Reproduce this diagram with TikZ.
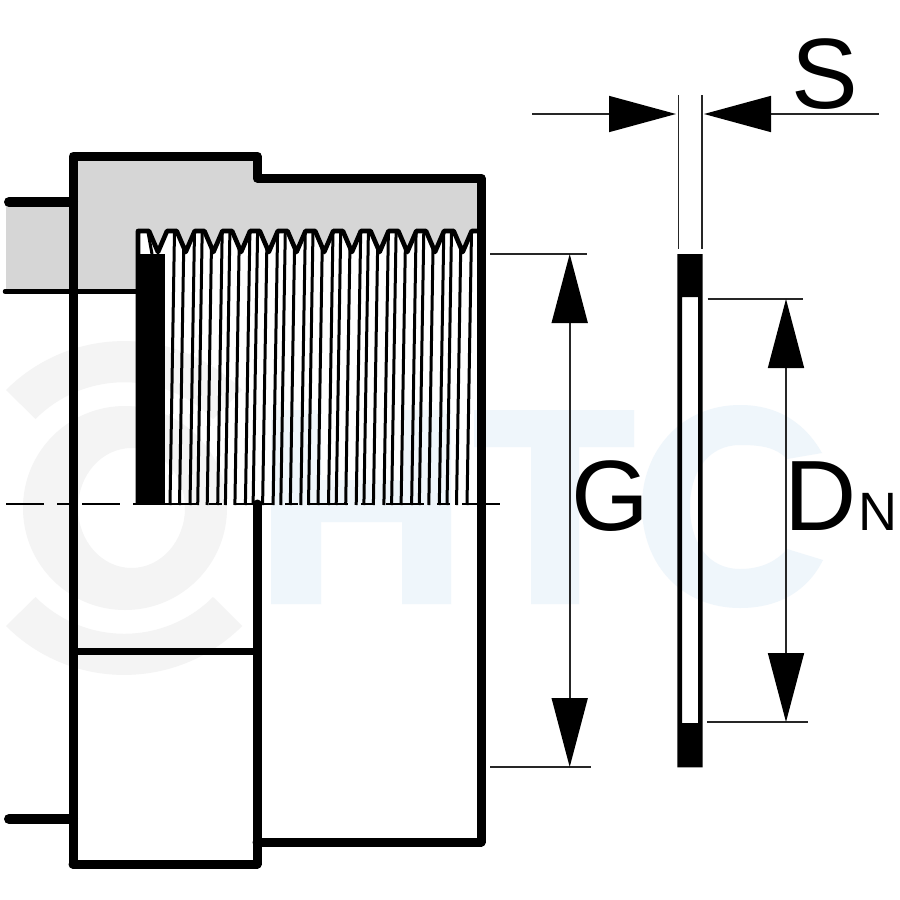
\documentclass[tikz,border=0pt]{standalone}
\usepackage{fontspec}
\setmainfont{Liberation Sans}
\usetikzlibrary{arrows.meta}
\definecolor{bodygrey}{HTML}{D6D6D6}
\definecolor{markgrey}{HTML}{F4F4F4}
\definecolor{markblue}{HTML}{EFF6FB}
\tikzset{
  thick outline/.style={line width=9pt,line join=round,line cap=round,black},
  thin wall/.style={line width=4.5pt,line cap=round,black},
  thread/.style={line width=3pt,black},
  flank/.style={line width=4.6pt,line join=round,black},
  dimline/.style={line width=1.6pt,black!85},
  extline/.style={line width=1.6pt,black!85},
  dimtips/.style={{Triangle[length=69pt,width=36pt,black]}-{Triangle[length=69pt,width=36pt,black]}},
  endtip/.style={-{Triangle[length=67pt,width=36pt,black]}},
  centreline/.style={line width=1.3pt,black,dash pattern=on 38pt off 13pt on 13pt off 12pt},
  bigtext/.style={inner sep=0pt,outer sep=0pt,anchor=base west,font=\fontsize{100}{100}\selectfont}
}
\begin{document}
\begin{tikzpicture}[x=1pt,y=-1pt]
\useasboundingbox (0,0) rectangle (900,900);
\fill[white] (0,0) rectangle (900,900);
% watermark logo
\fill[markgrey,even odd rule] (125,508) circle[radius=102] (131.5,508) ellipse[x radius=53.5,y radius=60];
\fill[markgrey] (6,390) arc[start angle=225,end angle=315,radius=167] -- (213,419) arc[start angle=315,end angle=225,radius=125.5] -- cycle;
\fill[markgrey] (6,626) arc[start angle=135,end angle=45,radius=167] -- (213,597) arc[start angle=45,end angle=135,radius=125.5] -- cycle;
% watermark letters
\fill[markblue] (271,410) -- (321,410) -- (321,480) -- (402,480) -- (402,410) -- (451,410) -- (451,604) -- (402,604) -- (402,522) -- (321,522) -- (321,604) -- (271,604) -- cycle;
\fill[markblue] (474,410) -- (634,410) -- (634,447) -- (579,447) -- (579,604) -- (531,604) -- (531,447) -- (474,447) -- cycle;
\fill[markblue] (822,453) .. controls (805,423) and (778,405) .. (740,405)
  .. controls (682,405) and (642,450) .. (642,506)
  .. controls (642,565) and (682,608) .. (740,608)
  .. controls (780,608) and (808,590) .. (823,560)
  -- (787,549)
  .. controls (776,562) and (760,569) .. (740,569)
  .. controls (708,569) and (690,542) .. (690,507)
  .. controls (690,472) and (708,445) .. (740,445)
  .. controls (760,445) and (776,447) .. (787,459) -- cycle;
% grey bodies
\fill[bodygrey] (6,204) rectangle (73,291);
\fill[bodygrey] (138,231) -- (149,231)
  \foreach \k in {0,...,11} { -- ({158+27.7*\k},252) -- ({167+27.7*\k},231) -- ({176.7+27.7*\k},231) }
  -- (481,231) -- (481,178) -- (257,178) -- (257,156) -- (73,156) -- (73,291) -- (138,291) -- cycle;
% thread lines
\begin{scope}
\clip (138,231) -- (149,231)
  \foreach \k in {0,...,11} { -- ({158+27.7*\k},252) -- ({167+27.7*\k},231) -- ({176.7+27.7*\k},231) }
  -- (478,231) -- (478,506) -- (138,506) -- cycle;
\foreach \k in {0,...,10} {
  \foreach \o in {170,179.5,190} {
    \draw[thread] ({\o+27.7*\k},505) -- ({\o+27.7*\k+4.6},225);
  }
}
\end{scope}
\draw[thread] (148,232) -- (152,254);
% centre line
\draw[centreline] (6,504) -- (500,504);
% thread profile
\draw[flank] (138,504) -- (138,231) -- (149,231)
  \foreach \k in {0,...,11} { -- ({158+27.7*\k},252) -- ({167+27.7*\k},231) -- ({176.7+27.7*\k},231) }
  -- (478,231);
\fill[black] (138,254) rectangle (164.5,504.5);
% outline
\draw[thick outline] (73,864) -- (73,156) -- (257,156) -- (257,178) -- (481,178) -- (481,842) -- (257,842);
\draw[thick outline] (257,504) -- (257,864) -- (73,864);
\draw[line width=7pt,black] (73,651) -- (257,651);
\draw[line width=10pt,line cap=round,black] (9,202) -- (73,202);
\draw[line width=10pt,line cap=round,black] (9,819) -- (73,819);
\draw[thin wall] (5,291.5) -- (138,291.5);
% washer
\fill[black,even odd rule] (677.3,254) rectangle (702.5,767.3) (682,297) rectangle (698,723);
% dimension G
\coordinate (gTop) at (569.7,254);
\coordinate (gBot) at (569.7,767);
\coordinate (gTopL) at (490,254);
\coordinate (gTopR) at (586.7,254);
\coordinate (gBotL) at (490,767);
\coordinate (gBotR) at (590.7,767);
\draw[extline] (gTopL) -- (gTopR);
\draw[extline] (gBotL) -- (gBotR);
\draw[dimline,dimtips] (gTop) -- (gBot);
% dimension DN
\coordinate (dTop) at (786,299);
\coordinate (dBot) at (786,722);
\coordinate (dTopL) at (707.5,299);
\coordinate (dTopR) at (802.7,299);
\coordinate (dBotL) at (707,722);
\coordinate (dBotR) at (807.7,722);
\draw[extline] (dTopL) -- (dTopR);
\draw[extline] (dBotL) -- (dBotR);
\draw[dimline,dimtips] (dTop) -- (dBot);
% dimension S
\coordinate (sLa) at (532,114);
\coordinate (sLb) at (676,114);
\coordinate (sRa) at (878.7,114);
\coordinate (sRb) at (704,114);
\draw[dimline,endtip] (sLa) -- (sLb);
\draw[dimline,endtip] (sRa) -- (sRb);
\coordinate (eLa) at (678.3,95);
\coordinate (eLb) at (678.3,249);
\coordinate (eRa) at (702,95);
\coordinate (eRb) at (702,249);
\draw[extline] (eLa) -- (eLb);
\draw[extline] (eRa) -- (eRb);
% labels
\node[bigtext] (labelS) at (791.6,108.5) {S};
\node[bigtext] (labelG) at (571.5,530.5) {G};
\node[bigtext] (labelD) at (784.5,530) {D\kern2pt{\fontsize{54}{54}\selectfont N}};
\end{tikzpicture}
\end{document}
